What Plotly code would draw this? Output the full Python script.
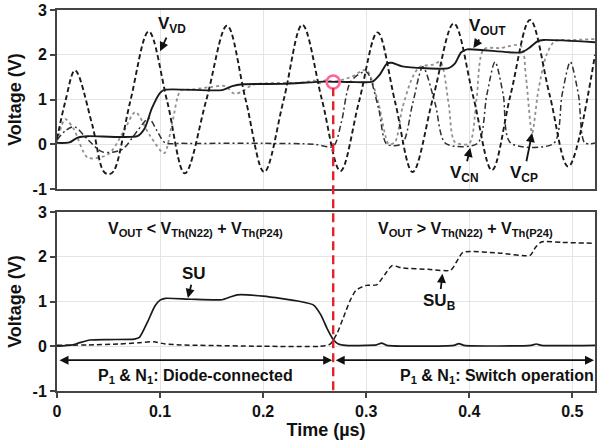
import plotly.graph_objects as go
from plotly.subplots import make_subplots

# ---------------- data ----------------
t_vd = [0, 0.008, 0.0175, 0.034, 0.045, 0.05, 0.055, 0.071, 0.089, 0.107, 0.124, 0.145,
        0.165, 0.183, 0.201, 0.22, 0.238, 0.257, 0.275, 0.293, 0.311, 0.328, 0.345, 0.365,
        0.385, 0.404, 0.422, 0.44, 0.459, 0.478, 0.496, 0.522]
v_vd = [0.12, 0.95, 1.65, 0.45, -0.6, -0.67, -0.6, 0.95, 2.52, 0.95, -0.65, 1.0,
        2.65, 1.0, -0.62, 1.0, 2.67, 1.0, -0.6, 0.95, 2.5, 0.95, -0.62, 1.05,
        2.7, 1.05, -0.58, 1.1, 2.78, 1.1, -0.5, 2.0]

t_out = [0, 0.012, 0.02, 0.03, 0.078, 0.085, 0.092, 0.1, 0.105, 0.16, 0.17, 0.18, 0.22,
         0.26, 0.285, 0.306, 0.313, 0.32, 0.325, 0.335, 0.38, 0.386, 0.392, 0.398, 0.45,
         0.458, 0.466, 0.472, 0.522]
v_out = [0.03, 0.04, 0.15, 0.18, 0.18, 0.35, 0.8, 1.15, 1.22, 1.21, 1.3, 1.34, 1.35,
         1.4, 1.39, 1.4, 1.55, 1.8, 1.82, 1.74, 1.7, 1.8, 2.05, 2.12, 2.05,
         2.15, 2.3, 2.33, 2.28]

t_cn = [0, 0.008, 0.017, 0.03, 0.044, 0.063, 0.078, 0.089, 0.097, 0.105, 0.12, 0.2,
        0.25, 0.268, 0.276, 0.285, 0.3, 0.312, 0.32, 0.335, 0.345, 0.355, 0.367, 0.377,
        0.408, 0.417, 0.425, 0.433, 0.44, 0.482, 0.49, 0.498, 0.506, 0.512, 0.522]
v_cn = [0.1, 0.3, 0.39, 0.1, -0.17, -0.12, 0.3, 0.58, 0.3, 0.03, 0.02, 0.02,
        0.0, -0.05, 0.5, 1.4, 1.62, 0.8, 0.0, 0.02, 0.9, 1.73, 0.9, 0.02,
        0.02, 1.1, 1.84, 1.1, 0.03, 0.02, 1.1, 1.84, 1.1, 0.03, 0.03]

t_cp = [0, 0.008, 0.016, 0.03, 0.05, 0.065, 0.076, 0.09, 0.104, 0.112, 0.12, 0.13, 0.15,
        0.163, 0.172, 0.18, 0.19, 0.24, 0.25, 0.255, 0.26, 0.268, 0.285, 0.3, 0.312,
        0.322, 0.328, 0.335, 0.345, 0.352, 0.365, 0.372, 0.38, 0.386, 0.4, 0.407, 0.414,
        0.43, 0.45, 0.455, 0.461, 0.467, 0.475, 0.483, 0.5, 0.522]
v_cp = [0.05, 0.56, 0.35, -0.3, -0.22, 0.3, 0.72, 0.2, -0.2, 0.5, 1.2, 1.22, 1.28,
        1.3, 1.13, 1.18, 1.33, 1.38, 1.42, 1.36, 1.43, 1.4, 1.5, 1.66, 0.9,
        0.0, 0.05, 0.8, 1.5, 1.73, 1.78, 1.84, 0.9, 0.05, 0.02, 1.0, 2.12,
        2.15, 2.2, 1.5, 0.25, 1.2, 2.0, 2.3, 2.33, 2.35]

t_su = [0, 0.015, 0.022, 0.032, 0.05, 0.075, 0.08, 0.088, 0.095, 0.1, 0.105, 0.13, 0.16,
        0.168, 0.175, 0.2, 0.236, 0.249, 0.256, 0.262, 0.268, 0.273, 0.28, 0.3, 0.31,
        0.315, 0.32, 0.385, 0.39, 0.395, 0.46, 0.465, 0.47, 0.522]
v_su = [0.0, 0.03, 0.08, 0.14, 0.15, 0.16, 0.2, 0.55, 0.9, 1.03, 1.07, 1.05, 1.04,
        1.1, 1.15, 1.12, 1.0, 0.92, 0.7, 0.4, 0.15, 0.05, 0.02, 0.02, 0.03,
        0.07, 0.02, 0.02, 0.06, 0.02, 0.02, 0.05, 0.02, 0.02]

t_sub = [0, 0.03, 0.06, 0.08, 0.094, 0.105, 0.12, 0.2, 0.255, 0.265, 0.272, 0.278, 0.284,
         0.29, 0.3, 0.31, 0.318, 0.325, 0.335, 0.36, 0.382, 0.388, 0.394, 0.43, 0.459,
         0.464, 0.47, 0.49, 0.522]
v_sub = [0.02, 0.03, 0.05, 0.08, 0.1, 0.05, 0.03, 0.0, 0.0, 0.05, 0.3, 0.65, 1.0,
         1.25, 1.36, 1.37, 1.6, 1.8, 1.75, 1.72, 1.7, 1.9, 2.1, 2.08, 2.03,
         2.2, 2.33, 2.32, 2.3]

switch_time = 0.268
switch_vout = 1.39

x_ticks = [0, 0.1, 0.2, 0.3, 0.4, 0.5]
x_ticklabels = ["0", "0.1", "0.2", "0.3", "0.4", "0.5"]
y_ticks = [-1, 0, 1, 2, 3]
y_ticklabels = ["-1", "0", "1", "2", "3"]

# ---------------- figure ----------------
FONT = "Liberation Sans, Arial, sans-serif"
DASH = "5px,3px"
DASHDOT = "6px,3px,2px,3px"
fig = make_subplots(rows=2, cols=1, shared_xaxes=False, vertical_spacing=0.06)

def line(x, y, dash, color, width, row, smooth=1.0):
    fig.add_trace(go.Scatter(x=x, y=y, mode="lines", showlegend=False, hoverinfo="skip",
                             line=dict(color=color, width=width, dash=dash,
                                       shape="spline", smoothing=smooth)),
                  row=row, col=1)

line(t_cp, v_cp, "dot", "#909090", 1.8, 1, 0.8)
line(t_cn, v_cn, DASHDOT, "#303030", 1.5, 1, 0.8)
line(t_vd, v_vd, DASH, "#1a1a1a", 1.9, 1, 1.0)
line(t_out, v_out, "solid", "#1a1a1a", 1.9, 1, 0.6)

line(t_sub, v_sub, DASH, "#1a1a1a", 1.5, 2, 0.6)
line(t_su, v_su, "solid", "#1a1a1a", 1.7, 2, 0.6)

# red marker circle
fig.add_trace(go.Scatter(x=[switch_time], y=[switch_vout], mode="markers", showlegend=False,
                         hoverinfo="skip",
                         marker=dict(symbol="circle-open", size=13,
                                     line=dict(color="#e3232a", width=2.6))),
              row=1, col=1)

# red dashed vertical line spanning both panels
fig.add_shape(type="line", xref="x2", yref="paper", x0=switch_time, x1=switch_time,
              y0=0.002, y1=0.795, line=dict(color="#e3232a", width=2.4, dash="9px,5px"))

axis_common = dict(range=[0, 0.522], showgrid=True, gridcolor="#e4e4e4", gridwidth=1,
                   showline=True, linecolor="#444444", linewidth=2, mirror=True,
                   tickvals=x_ticks, ticktext=x_ticklabels, zeroline=False, automargin=False)
yaxis_common = dict(range=[-1, 3], showgrid=True, gridcolor="#e4e4e4", gridwidth=1,
                    showline=True, linecolor="#444444", linewidth=2, mirror=True,
                    tickvals=y_ticks, ticktext=y_ticklabels, zeroline=False, automargin=False,
                    ticks="outside", ticklen=5, tickcolor="#444444", tickwidth=2,
                    title=dict(text="Voltage (V)", font=dict(size=18, family=FONT, weight="bold", color="#111"),
                               standoff=6),
                    tickfont=dict(size=16, family=FONT, weight="bold", color="#111"))

fig.update_xaxes(**axis_common, showticklabels=False, ticks="", row=1, col=1)
fig.update_xaxes(**axis_common, showticklabels=True, ticks="outside", ticklen=5,
                 tickcolor="#444444", tickwidth=2,
                 tickfont=dict(size=16, family=FONT, weight="bold", color="#111"),
                 title=dict(text="Time (µs)", font=dict(size=18, family=FONT, weight="bold", color="#111"),
                            standoff=2),
                 row=2, col=1)
fig.update_yaxes(**yaxis_common, row=1, col=1)
fig.update_yaxes(**yaxis_common, row=2, col=1)

fig.update_layout(
    width=600, height=440,
    margin=dict(l=57, r=5, t=10, b=49, autoexpand=False),
    paper_bgcolor="white", plot_bgcolor="white",
    font=dict(family=FONT, color="#111", size=16, weight="bold"),
)
fig.layout.yaxis.domain = [0.5302, 1.0]
fig.layout.yaxis2.domain = [0.0, 0.4698]

ann_font = dict(family=FONT, size=16, color="#111", weight="bold")
lab_font = dict(family=FONT, size=17, color="#111", weight="bold")

def label(text, x, y, ax, ay, row):
    xr = "x" if row == 1 else "x2"
    yr = "y" if row == 1 else "y2"
    fig.add_annotation(text=text, x=x, y=y, ax=ax, ay=ay, xref=xr, yref=yr,
                       axref=xr, ayref=yr, showarrow=True, arrowhead=2, arrowsize=1,
                       arrowwidth=1.8, arrowcolor="#111", font=lab_font, standoff=0,
                       startstandoff=0)

label("V<sub>VD</sub>", 0.1, 2.08, 0.112, 2.66, 1)
label("V<sub>OUT</sub>", 0.404, 2.15, 0.418, 2.62, 1)
label("V<sub>CN</sub>", 0.401, -0.08, 0.395, -0.66, 1)
label("V<sub>CP</sub>", 0.461, 0.25, 0.453, -0.66, 1)
label("SU", 0.127, 1.08, 0.133, 1.62, 2)
label("SU<sub>B</sub>", 0.374, 1.62, 0.371, 1.0, 2)

fig.add_annotation(text="V<sub>OUT</sub> < V<sub>Th(N22)</sub> + V<sub>Th(P24)</sub>",
                   x=0.134, y=2.6, xref="x2", yref="y2", showarrow=False, font=ann_font)
fig.add_annotation(text="V<sub>OUT</sub> > V<sub>Th(N22)</sub> + V<sub>Th(P24)</sub>",
                   x=0.396, y=2.6, xref="x2", yref="y2", showarrow=False, font=ann_font)

# double-headed region arrows
for x0, x1 in [(0.0, switch_time), (switch_time, 0.522)]:
    fig.add_annotation(text="", x=x1, y=-0.31, ax=x0, ay=-0.31, xref="x2", yref="y2",
                       axref="x2", ayref="y2", showarrow=True, arrowhead=2,
                       arrowside="end+start", arrowsize=1, arrowwidth=1.8,
                       arrowcolor="#111", standoff=1, startstandoff=1)

fig.add_annotation(text="P<sub>1</sub> & N<sub>1</sub>: Diode-connected", x=0.134, y=-0.68,
                   xref="x2", yref="y2", showarrow=False, font=ann_font)
fig.add_annotation(text="P<sub>1</sub> & N<sub>1</sub>: Switch operation", x=0.427, y=-0.68,
                   xref="x2", yref="y2", showarrow=False, font=ann_font)

fig.write_html("out.html", config={"displayModeBar": False},
               post_script="document.body.style.margin='0';document.body.style.overflow='hidden';")
